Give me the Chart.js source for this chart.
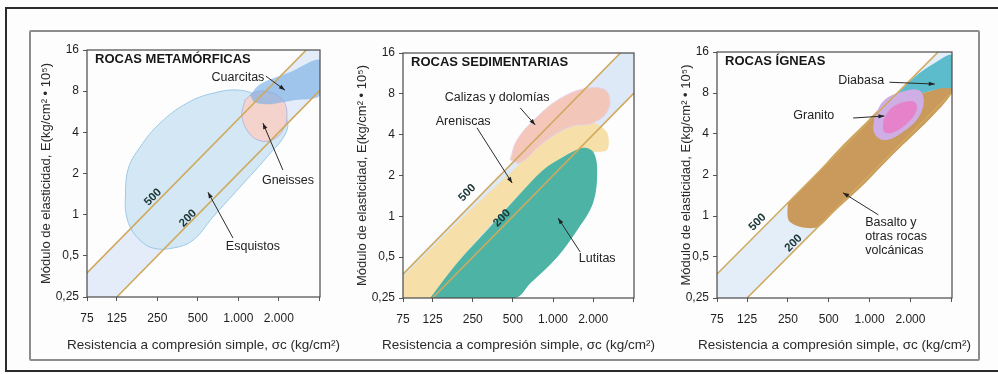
<!DOCTYPE html>
<html>
<head>
<meta charset="utf-8">
<script src="https://cdn.jsdelivr.net/npm/chart.js@4.4.1/dist/chart.umd.min.js"></script>
<style>
    html, body { margin: 0; padding: 0; background: #fff; }
    #page { position: relative; width: 998px; height: 374px; overflow: hidden; background: #fdfdfd; }
    .outer { position: absolute; left: 5px; top: 7px; width: 1000px; height: 361px; border: 2px solid #2b2b2b; }
    .inner { position: absolute; left: 29px; top: 30px; width: 947px; height: 327px; border: 2px solid #8c8c8c; border-radius: 2px; }
    canvas { position: absolute; }
</style>
</head>
<body>
<div id="page">
    <div class="outer"></div>
    <div class="inner"></div>
    <canvas id="c1" width="330" height="318" style="left:18px;top:38px"></canvas>
    <canvas id="c2" width="330" height="318" style="left:334px;top:38px"></canvas>
    <canvas id="c3" width="330" height="318" style="left:648px;top:38px"></canvas>
</div>
<script>
// axes
const X_MIN = 75, X_MAX = 4050, Y_MIN = 0.25, Y_MAX = 16;
const xTicks = [75, 125, 250, 500, 1000, 2000, 4000];
const xTickLabels = ["75", "125", "250", "500", "1.000", "2.000", ""];
const yTicks = [0.25, 0.5, 1, 2, 4, 8, 16];
const yTickLabels = ["0,25", "0,5", "1", "2", "4", "8", "16"];
const xTitle = "Resistencia a compresión simple, σc (kg/cm²)";
const yTitle = "Módulo de elasticidad, E(kg/cm² • 10⁵)";

// modulus ratio lines E/σc = 500 and 200, and the band between them
const line500 = [[75, 0.375], [3200, 16]];
const line200 = [[125, 0.25], [4050, 8.1]];
const band = [[75, 0.25], [75, 0.375], [3200, 16], [4050, 16], [4050, 8.1], [125, 0.25]];

// metamorphic rocks
const esquistos = [[144, 1.22], [151, 2.12], [186, 3.12], [262, 4.67], [415, 6.54], [648, 7.73], [1029, 8.14], [1449, 7.23],
    [2146, 5.53], [2300, 4.15], [1633, 2.64], [1029, 1.59], [648, 0.96], [460, 0.65], [327, 0.57], [232, 0.57], [186, 0.65], [157, 0.81], [146, 1.03]];
const gneisses = [[1121, 6.88], [1330, 7.87], [1719, 7.87], [2146, 6.88], [2300, 5.34], [2146, 4.15], [1779, 3.51], [1400, 3.51], [1160, 4.15], [1064, 5.34]];
const cuarcitas = [[1221, 7.48], [1449, 9.0], [2420, 11.0], [4050, 13.5], [4050, 7.48], [2637, 6.88], [1719, 6.43], [1330, 6.6]];

// sedimentary rocks
const areniscas = [[75, 0.357], [212, 0.99], [477, 2.09], [843, 3.48], [1345, 4.57], [2000, 4.89], [2550, 4.12], [2550, 3.09],
    [2000, 2.97], [1192, 2.74], [538, 1.39], [191, 0.453], [120, 0.25], [75, 0.25]];
const calizas = [[477, 2.61], [538, 3.66], [760, 5.41], [1192, 7.6], [1900, 8.86], [2550, 8.28], [2594, 6.1], [2000, 4.89], [1345, 4.57], [843, 3.48], [567, 2.48]];
const lutitas = [[120, 0.25], [191, 0.453], [320, 0.79], [538, 1.39], [843, 2.2], [1192, 2.74], [1684, 3.2], [2000, 2.99],
    [2145, 2.2], [2000, 1.26], [1518, 0.79], [1074, 0.5], [674, 0.32], [520, 0.25]];

// igneous rocks
const basalto = [[249, 1.25], [368, 1.84], [615, 3.21], [977, 5.07], [1376, 7.1], [1719, 8.0], [2420, 8.0], [3409, 8.85], [4050, 9.97],
    [4050, 8.0], [2728, 5.07], [1525, 2.9], [867, 1.63], [546, 1.07], [415, 0.83], [310, 0.83], [253, 0.93]];
const diabasa = [[1525, 7.48], [2146, 10.5], [3024, 13.3], [4050, 15.2], [4050, 8.85], [3409, 8.7], [2420, 8.0], [1719, 7.74]];
const granitoHalo = [[1083, 5.33], [1285, 7.1], [1719, 8.14], [2300, 8.42], [2505, 7.1], [2300, 5.33], [1719, 4.07], [1285, 3.61], [1083, 4.07]];
const granito = [[1263, 5.07], [1449, 6.2], [1810, 6.87], [2146, 6.87], [2222, 6.0], [1937, 4.9], [1525, 4.14], [1285, 4.14]];

const FONT = '"Liberation Sans", Arial, Helvetica, sans-serif';
const LINE_COLOR = "#cfa95e";

// canvases are 330 wide; padLeft + 55 (y scale) puts the plot edge, padRight closes it
const panels = [
    {
        id: "c1", title: "ROCAS METAMÓRFICAS", padTop: 12, padLeft: 14, padRight: 28, xH: 59, yTitlePad: 7,
        regions: [
            {pts: band, bg: "#e3ecf8", border: "rgba(0,0,0,0)", tension: 0},
            {pts: esquistos, bg: "#d3e8f4", border: "#9cc9e6", tension: 0.4},
            {pts: gneisses, bg: "rgba(246,208,198,0.9)", border: "#b7b9e3", tension: 0.4},
            {pts: cuarcitas, bg: "rgba(118,172,230,0.62)", border: "rgba(0,0,0,0)", tension: 0.3}
        ],
        notes: [
            {t: ["Cuarcitas"], at: [994, 10.1], arrow: [[1605, 10.3], [2222, 8.14]]},
            {t: ["Gneisses"], at: [2340, 1.79], arrow: [[2146, 2.12], [1525, 4.67]]},
            {t: ["Esquistos"], at: [1285, 0.58], arrow: [[913, 0.675], [595, 1.46]]}
        ],
        ratioAt: [[232, 1.34], [422, 0.94]]
    },
    {
        id: "c2", title: "ROCAS SEDIMENTARIAS", padTop: 15, padLeft: 14, padRight: 30, xH: 58, yTitlePad: 7,
        regions: [
            {pts: band, bg: "#dde9f6", border: "rgba(0,0,0,0)", tension: 0},
            {pts: areniscas, bg: "#f6dfa8", border: "rgba(0,0,0,0)", tension: 0.3},
            {pts: calizas, bg: "rgba(244,194,180,0.92)", border: "#e6d2e8", tension: 0.4},
            {pts: lutitas, bg: "#4cb3a5", border: "rgba(0,0,0,0)", tension: 0.35}
        ],
        notes: [
            {t: ["Calizas y dolomías"], at: [381, 7.47], arrow: [[567, 6.31], [735, 4.72]]},
            {t: ["Areniscas"], at: [212, 4.97], arrow: [[269, 4.49], [494, 1.76]]},
            {t: ["Lutitas"], at: [2145, 0.49], arrow: [[1600, 0.546], [1093, 0.97]]}
        ],
        ratioAt: [[227, 1.49], [415, 0.97]]
    },
    {
        id: "c3", title: "ROCAS ÍGNEAS", padTop: 14, padLeft: 14, padRight: 26, xH: 58, yTitlePad: 17,
        regions: [
            {pts: band, bg: "#e4eef9", border: "rgba(0,0,0,0)", tension: 0},
            {pts: basalto, bg: "#c99a5c", border: "rgba(0,0,0,0)", tension: 0.3},
            {pts: diabasa, bg: "#5cbccc", border: "rgba(0,0,0,0)", tension: 0.3},
            {pts: granitoHalo, bg: "#cfaee6", border: "rgba(0,0,0,0)", tension: 0.4},
            {pts: granito, bg: "#e582c9", border: "rgba(0,0,0,0)", tension: 0.4}
        ],
        notes: [
            {t: ["Diabasa"], at: [867, 9.8], arrow: [[1400, 9.6], [3024, 9.3]]},
            {t: ["Granito"], at: [388, 5.5], arrow: [[756, 5.24], [1285, 5.42]]},
            {t: ["Basalto y", "otras rocas", "volcánicas"], at: [928, 0.89], align: "left", arrow: [[1160, 1.02], [637, 1.48]]}
        ],
        ratioAt: [[149, 0.90], [275, 0.63]]
    }
];

function toPoints(arr, close) {
    const p = arr.map(function (d) { return {x: d[0], y: d[1]}; });
    if (close) p.push({x: arr[0][0], y: arr[0][1]});
    return p;
}

function drawArrow(ctx, x1, y1, x2, y2) {
    ctx.beginPath();
    ctx.moveTo(x1, y1);
    ctx.lineTo(x2, y2);
    ctx.stroke();
    const a = Math.atan2(y2 - y1, x2 - x1);
    ctx.beginPath();
    ctx.moveTo(x2, y2);
    ctx.lineTo(x2 - 6 * Math.cos(a) + 2.2 * Math.sin(a), y2 - 6 * Math.sin(a) - 2.2 * Math.cos(a));
    ctx.lineTo(x2 - 6 * Math.cos(a) - 2.2 * Math.sin(a), y2 - 6 * Math.sin(a) + 2.2 * Math.cos(a));
    ctx.closePath();
    ctx.fill();
}

const panelDecor = {
    id: "panelDecor",
    afterDatasetsDraw(chart) {
        const p = chart.options.plugins.panelDecor;
        const ctx = chart.ctx, a = chart.chartArea;
        const xs = chart.scales.x, ys = chart.scales.y;
        const px = v => xs.getPixelForValue(v), py = v => ys.getPixelForValue(v);
        ctx.save();

        // line labels 500 / 200
        ctx.fillStyle = "#1d3636";
        ctx.font = "bold 11.5px " + FONT;
        ctx.textAlign = "center";
        ctx.textBaseline = "middle";
        [line500, line200].forEach(function (l, i) {
            const ang = Math.atan2(py(l[1][1]) - py(l[0][1]), px(l[1][0]) - px(l[0][0]));
            ctx.save();
            ctx.translate(px(p.ratioAt[i][0]), py(p.ratioAt[i][1]));
            ctx.rotate(ang);
            ctx.fillText(i === 0 ? "500" : "200", 0, 0);
            ctx.restore();
        });

        // notes with arrows
        ctx.strokeStyle = "#2a2a2a";
        ctx.fillStyle = "#222";
        ctx.lineWidth = 1;
        p.notes.forEach(function (n) {
            ctx.font = "12.5px " + FONT;
            ctx.textAlign = n.align || "center";
            n.t.forEach(function (line, k) {
                ctx.fillText(line, px(n.at[0]), py(n.at[1]) + k * 14);
            });
            drawArrow(ctx, px(n.arrow[0][0]), py(n.arrow[0][1]), px(n.arrow[1][0]), py(n.arrow[1][1]));
        });

        // frame and title
        ctx.strokeStyle = "#4a4a4a";
        ctx.lineWidth = 1.2;
        ctx.strokeRect(a.left, a.top, a.right - a.left, a.bottom - a.top);
        ctx.fillStyle = "#161616";
        ctx.font = "bold 13px " + FONT;
        ctx.textAlign = "left";
        ctx.fillText(p.title, a.left + 8, a.top + 9);

        // x axis title, drawn here so it is not squeezed to the plot width
        ctx.fillStyle = "#2a2a2a";
        ctx.font = "13.5px " + FONT;
        ctx.textAlign = "center";
        ctx.fillText(xTitle, (a.left + a.right) / 2, chart.height - 11);
        ctx.restore();
    }
};

function makePanel(panel) {
    const datasets = [];
    panel.regions.forEach(function (r) {
        datasets.push({
            data: toPoints(r.pts, true),
            fill: "shape",
            backgroundColor: r.bg,
            borderColor: r.border,
            borderWidth: 1,
            tension: r.tension,
            pointRadius: 0
        });
    });
    [line500, line200].forEach(function (l) {
        datasets.push({
            data: toPoints(l, false),
            fill: false,
            borderColor: LINE_COLOR,
            borderWidth: 1.6,
            tension: 0,
            pointRadius: 0
        });
    });
    // first dataset at the bottom of the drawing stack
    datasets.forEach(function (d, i) { d.order = datasets.length - i; });

    new Chart(document.getElementById(panel.id), {
        type: "line",
        data: {datasets: datasets},
        options: {
            responsive: false,
            animation: false,
            events: [],
            layout: {padding: {top: panel.padTop, right: panel.padRight, left: panel.padLeft, bottom: 0}},
            plugins: {
                legend: {display: false},
                tooltip: {enabled: false},
                panelDecor: {title: panel.title, notes: panel.notes, ratioAt: panel.ratioAt}
            },
            scales: {
                x: {
                    type: "logarithmic", min: X_MIN, max: X_MAX,
                    afterBuildTicks: s => { s.ticks = xTicks.map(v => ({value: v})); },
                    afterFit: s => { s.height = panel.xH; },
                    ticks: {callback: (v, i) => xTickLabels[i], autoSkip: false, maxRotation: 0, padding: 10,
                        color: "#1e1e1e", font: {family: FONT, size: 12}},
                    grid: {drawOnChartArea: false, drawTicks: true, tickLength: 4, color: "#555"},
                    border: {display: false},
                    title: {display: false}
                },
                y: {
                    type: "logarithmic", min: Y_MIN, max: Y_MAX,
                    afterBuildTicks: s => { s.ticks = yTicks.map(v => ({value: v})); },
                    afterFit: s => { s.width = 55; },
                    ticks: {callback: (v, i) => yTickLabels[i], autoSkip: false, padding: 4,
                        color: "#1e1e1e", font: {family: FONT, size: 12}},
                    grid: {drawOnChartArea: false, drawTicks: true, tickLength: 4, color: "#555"},
                    border: {display: false},
                    title: {display: true, text: yTitle, color: "#2a2a2a", padding: {top: panel.yTitlePad, bottom: 0},
                        font: {family: FONT, size: 13}}
                }
            }
        },
        plugins: [panelDecor]
    });
}

panels.forEach(makePanel);
</script>
</body>
</html>
